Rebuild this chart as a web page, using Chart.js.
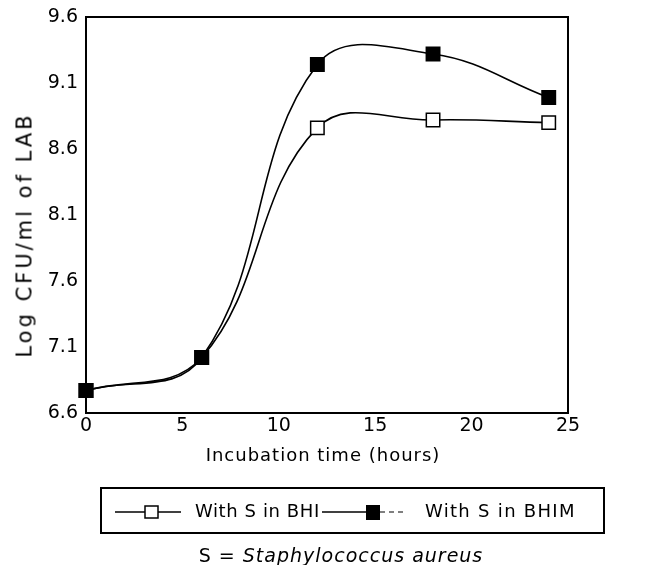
<!DOCTYPE html>
<html><head><meta charset="utf-8">
<script src="https://cdn.jsdelivr.net/npm/chart.js@4/dist/chart.umd.min.js"></script>
<style>
html,body{margin:0;padding:0;background:#fff;}
#wrap{position:relative;width:649px;height:565px;overflow:hidden;}
canvas{position:absolute;left:0;top:0;}
.t{position:absolute;font-family:"DejaVu Sans";color:#000;white-space:nowrap;line-height:1;}
#ytitle{left:25px;top:235px;font-size:21px;letter-spacing:3px;transform:translate(-50%,-50%) rotate(-90deg);}
#xtitle{left:323px;top:455px;font-size:18px;letter-spacing:1px;transform:translate(-50%,-50%);}
#legend{position:absolute;left:100px;top:487px;width:501px;height:43px;border:2px solid #000;}
#legend .t{font-size:18px;letter-spacing:0.6px;top:13px;}
#legend svg{position:absolute;top:0;}
#caption{left:341px;top:555px;font-size:19px;letter-spacing:1px;transform:translate(-50%,-50%);}
</style></head><body>
<div id="wrap">
<canvas id="c" width="649" height="565"></canvas>
<div class="t" id="ytitle">Log CFU/ml of LAB</div>
<div class="t" id="xtitle">Incubation time (hours)</div>
<div id="legend">
  <svg style="left:13px" width="70" height="43"><line x1="0" y1="23" x2="66" y2="23" stroke="#000" stroke-width="1.5"/><rect x="30" y="17" width="13" height="12" fill="#fff" stroke="#000" stroke-width="1.5"/></svg>
  <div class="t" id="l1" style="left:93px">With S in BHI</div>
  <svg style="left:220px" width="85" height="43"><line x1="0" y1="23" x2="44" y2="23" stroke="#000" stroke-width="1.5"/><rect x="44" y="16" width="14" height="15" fill="#000"/><line x1="58" y1="23" x2="82" y2="23" stroke="#000" stroke-width="1.2" stroke-dasharray="5,4"/></svg>
  <div class="t" id="l2" style="left:323px;letter-spacing:1.3px">With S in BHIM</div>
</div>
<div class="t" id="caption">S = <i>Staphylococcus aureus</i></div>
</div>
<script>
// ---- data ----
const hours = [0, 6, 12, 18, 24];
const bhi  = [6.77, 7.02, 8.76, 8.82, 8.80];
const bhim = [6.77, 7.02, 9.24, 9.32, 8.99];
const seriesNames = ['With S in BHI', 'With S in BHIM'];
const yTicks = [6.6, 7.1, 7.6, 8.1, 8.6, 9.1, 9.6];
const xTicks = [0, 5, 10, 15, 20, 25];

const framePlugin = {
  id: 'frame',
  beforeDatasetsDraw(chart) {
    const a = chart.chartArea, c = chart.ctx;
    c.save();
    c.strokeStyle = '#000';
    c.lineWidth = 2;
    c.strokeRect(a.left, a.top, a.right - a.left, a.bottom - a.top);
    c.restore();
  }
};

const tickFont = {family: 'DejaVu Sans', size: 19};

function ds(label, ys, fill, order) {
  return {
    label: label,
    data: hours.map((h, i) => ({x: h, y: ys[i]})),
    showLine: true,
    tension: 0.4,
    borderColor: '#000',
    borderWidth: 1.6,
    pointStyle: 'rect',
    pointRadius: 9.5,
    pointBackgroundColor: fill,
    pointBorderColor: '#000',
    pointBorderWidth: 1.5,
    clip: false,
    order: order
  };
}

new Chart(document.getElementById('c'), {
  type: 'scatter',
  data: { datasets: [ ds(seriesNames[0], bhi, '#fff', 1), ds(seriesNames[1], bhim, '#000', 0) ] },
  options: {
    responsive: false,
    animation: false,
    events: [],
    layout: { padding: { left: 0, top: 17, right: 81, bottom: 122 } },
    plugins: { legend: { display: false }, tooltip: { enabled: false } },
    scales: {
      x: {
        type: 'linear', min: 0, max: 25,
        afterBuildTicks(s) { s.ticks = xTicks.map(v => ({value: v})); },
        ticks: { padding: 2, color: '#000', font: tickFont, maxRotation: 0, callback: v => String(v) },
        grid: { display: false, drawTicks: false },
        border: { display: false },
        afterFit(s) { s.height = 30; s.paddingLeft = 0; s.paddingRight = 0; }
      },
      y: {
        type: 'linear', min: 6.6, max: 9.6,
        afterBuildTicks(s) { s.ticks = yTicks.map(v => ({value: v})); },
        ticks: { padding: 8, color: '#000', font: tickFont, callback: v => Number(v).toFixed(1) },
        grid: { display: false, drawTicks: false },
        border: { display: false },
        afterFit(s) { s.width = 86; s.paddingTop = 0; s.paddingBottom = 0; }
      }
    }
  },
  plugins: [framePlugin]
});
</script>
</body></html>
